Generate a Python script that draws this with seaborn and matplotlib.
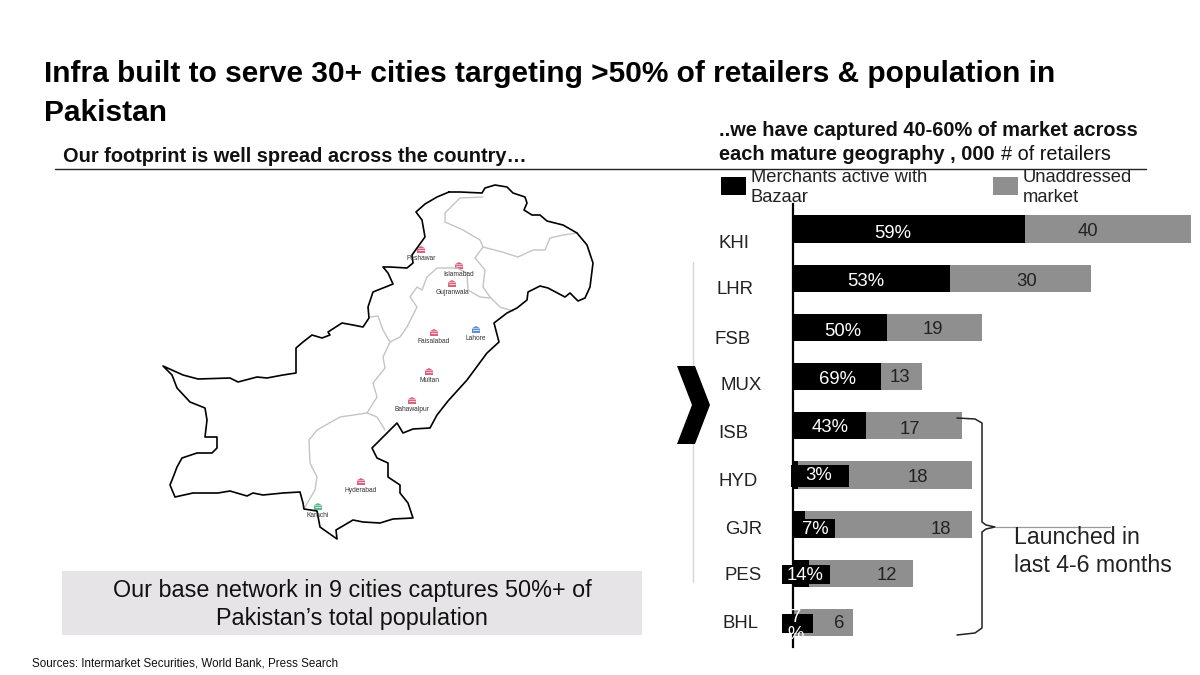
# -*- coding: utf-8 -*-
import matplotlib
matplotlib.use('Agg')
import matplotlib.pyplot as plt
import pandas as pd
import seaborn as sns
from matplotlib.patches import Polygon, Rectangle

cities = ['KHI', 'LHR', 'FSB', 'MUX', 'ISB', 'HYD', 'GJR', 'PES', 'BHL']
# bar lengths as drawn on the slide, the slide is not to scale with its labels
active = [55.9, 37.8, 22.7, 21.2, 17.6, 1.2, 2.9, 3.9, 0.0]
unaddressed = [40.0, 34.0, 22.8, 9.9, 23.1, 41.9, 40.2, 25.0, 14.5]
share_labels = ['59%', '53%', '50%', '69%', '43%', '3%', '7%', '14%', '7\n%']
market_labels = ['40', '30', '19', '13', '17', '18', '18', '12', '6']

# slide pixel positions of the free placed text
city_xy = [(719, 244), (716, 290), (715, 339), (720, 386), (718, 433),
           (718, 481), (725, 529), (725, 576), (723, 624)]
share_xy = [(893, 233), (866, 282), (843, 332), (837, 379), (830, 427),
            (819, 476), (815, 529), (805, 575), (796, 626)]
market_xy = [(1088, 231), (1027, 281), (933, 330), (900, 377), (910, 430),
             (918, 478), (941, 529), (887, 576), (839, 624)]
# black label boxes that sit on top of the small bars: x0, x1, y0, y1
label_boxes = [(791, 849, 465, 487), (793, 835, 519, 538),
               (782, 830, 565, 584), (782, 813, 614, 633)]

map_names = ['Peshawar', 'Islamabad', 'Gujranwala', 'Faisalabad', 'Lahore',
             'Multan', 'Bahawalpur', 'Hyderabad', 'Karachi']
map_xy = [(421, 250), (459, 266), (452, 284), (434, 333), (476, 330),
          (429, 372), (412, 401), (361, 482), (318, 507)]
map_colors = ['#d9627c', '#d9627c', '#d9627c', '#d9627c', '#5b8fd8',
              '#d9627c', '#d9627c', '#d9627c', '#58b98a']

border = [(449, 192), (460, 192), (482, 193), (485, 188), (495, 185), (507, 187),
          (513, 193), (525, 197), (527, 203), (524, 210), (532, 215), (540, 215),
          (547, 221), (563, 225), (577, 233), (587, 245), (593, 263), (590, 287),
          (585, 298), (578, 301), (570, 293), (565, 297), (548, 288), (540, 286),
          (528, 292), (527, 300), (517, 308), (507, 313), (494, 323), (499, 342),
          (487, 353), (467, 380), (448, 401), (437, 415), (430, 428), (413, 429),
          (403, 433), (397, 423), (383, 437), (372, 448), (377, 458), (388, 463),
          (388, 477), (400, 485), (400, 493), (408, 503), (413, 518), (393, 519),
          (380, 523), (363, 522), (353, 520), (336, 530), (337, 539), (320, 527),
          (317, 511), (304, 509), (303, 503), (300, 492), (283, 493), (263, 495),
          (253, 493), (247, 496), (230, 491), (218, 493), (193, 493), (175, 497),
          (170, 485), (174, 475), (177, 467), (182, 458), (197, 453), (212, 453),
          (217, 448), (217, 437), (205, 437), (207, 420), (205, 408), (190, 402),
          (177, 388), (172, 375), (163, 366), (183, 375), (198, 379), (230, 378),
          (238, 382), (257, 377), (267, 378), (283, 375), (296, 373), (296, 348),
          (303, 342), (312, 335), (322, 338), (330, 335), (328, 332), (342, 323),
          (353, 325), (363, 327), (369, 318), (368, 307), (373, 292), (383, 288),
          (393, 284), (388, 273), (383, 267), (390, 267), (407, 268), (413, 263),
          (412, 255), (417, 248), (425, 237), (422, 220), (416, 212), (425, 204),
          (437, 197), (449, 192)]
inner_lines = [
    [(577, 233), (563, 235), (550, 238), (545, 250), (533, 250), (518, 257), (502, 252),
     (483, 247), (480, 240), (463, 230), (445, 222), (445, 213), (460, 198), (483, 197)],
    [(483, 247), (475, 258), (485, 270), (483, 287), (490, 297), (500, 307), (513, 311)],
    [(490, 298), (480, 297), (468, 290), (467, 273), (457, 268), (437, 268), (427, 277),
     (422, 290), (417, 287), (410, 297), (417, 307), (407, 327), (400, 337), (390, 342),
     (383, 357), (385, 368), (373, 383), (377, 397), (367, 413), (340, 417), (317, 430),
     (309, 440), (310, 463), (317, 477), (315, 490), (305, 507)],
    [(370, 317), (378, 316), (383, 330), (390, 342)],
    [(367, 413), (377, 417), (385, 430)],
]
brace = [(957, 418), (975, 419), (982, 423), (982, 522), (986, 525), (995, 527),
         (986, 529), (982, 532), (982, 628), (975, 633), (957, 635)]
chevron = [(677, 366), (695, 366), (710, 405), (695, 444), (677, 444), (692, 405)]

sns.set_theme(style='white')
plt.rcParams['font.family'] = ['Liberation Sans', 'DejaVu Sans']

W, H = 1200, 675
fig = plt.figure(figsize=(12, 6.75), dpi=100, facecolor='white')

# bars, one unit is 4.15 px, first row centred on y=229 and 49.2 px between rows
bar_left, bar_top, bar_bottom = 793, 204.4, 647.2
ax = fig.add_axes([bar_left / W, 1 - bar_bottom / H, (W - bar_left) / W, (bar_bottom - bar_top) / H])
data = pd.DataFrame({'city': cities, 'active': active, 'unaddressed': unaddressed})
data['total'] = data['active'] + data['unaddressed']
sns.barplot(data=data, y='city', x='total', color='#8f8f8f', saturation=1, width=0.55,
            linewidth=0, ax=ax)
sns.barplot(data=data, y='city', x='active', color='black', saturation=1, width=0.55,
            linewidth=0, ax=ax)
ax.set_xlim(0, (W - bar_left) / 4.15)
ax.set_ylim(8.5, -0.5)
ax.set(xlabel='', ylabel='', xticks=[], yticks=[])
sns.despine(ax=ax, left=False, bottom=True)
ax.spines['left'].set_color('black')
ax.spines['left'].set_linewidth(1.6)
ax.patch.set_alpha(0)

# everything else is placed in slide pixels
over = fig.add_axes([0, 0, 1, 1])
over.set_xlim(0, W)
over.set_ylim(H, 0)
over.axis('off')
over.patch.set_alpha(0)

over.text(44, 74, 'Infra built to serve 30+ cities targeting >50% of retailers & population in',
          fontsize=21.56, fontweight='bold', color='black', va='center')
over.text(44, 113, 'Pakistan', fontsize=21.56, fontweight='bold', color='black', va='center')
over.text(63, 156, 'Our footprint is well spread across the country\u2026',
          fontsize=14.4, fontweight='bold', color='#111111', va='center')
over.text(719, 131, '..we have captured 40-60% of market across',
          fontsize=14.4, fontweight='bold', color='#111111', va='center')
over.text(719, 155, 'each mature geography , 000', fontsize=14.4, fontweight='bold',
          color='#111111', va='center')
over.text(1001, 155, '# of retailers', fontsize=14.3, color='#111111', va='center')
over.plot([55, 1146], [169, 169], color='#222222', lw=1)

# legend
over.add_patch(Rectangle((721, 177), 25, 18, color='black', lw=0))
over.add_patch(Rectangle((993, 177), 25, 18, color='#8f8f8f', lw=0))
over.text(751, 178, 'Merchants active with', fontsize=13.2, color='#222222', va='center')
over.text(751, 198, 'Bazaar', fontsize=13.2, color='#222222', va='center')
over.text(1023, 178, 'Unaddressed', fontsize=13.2, color='#222222', va='center')
over.text(1023, 198, 'market', fontsize=13.2, color='#222222', va='center')

# labels on the bars
for x0, x1, y0, y1 in label_boxes:
    over.add_patch(Rectangle((x0, y0), x1 - x0, y1 - y0, color='black', lw=0))
for name, (x, y) in zip(cities, city_xy):
    over.text(x, y, name, fontsize=13.4, color='#222222', va='center')
for txt, (x, y) in zip(share_labels[:-1], share_xy[:-1]):
    over.text(x, y, txt, fontsize=13.3, color='white', ha='center', va='center')
over.text(share_xy[-1][0], share_xy[-1][1], share_labels[-1], fontsize=13.3, color='white',
          ha='center', va='center', linespacing=1.05)
for txt, (x, y) in zip(market_labels, market_xy):
    over.text(x, y, txt, fontsize=13.3, color='#222222', ha='center', va='center')

# chevron, rule and bracket
over.plot([693, 693], [262, 582], color='#d6d6d6', lw=1, zorder=1)
over.add_patch(Polygon(chevron, closed=True, color='black', lw=0, zorder=2))
over.plot(*zip(*brace), color='#222222', lw=1.1)
over.plot([995, 1110], [527, 527], color='#9a9a9a', lw=0.9)
over.text(1014, 538, 'Launched in', fontsize=16.7, color='#222222', va='center')
over.text(1014, 566, 'last 4-6 months', fontsize=16.7, color='#222222', va='center')

# map
for line in inner_lines:
    over.plot(*zip(*line), color='#c4c4c4', lw=1)
over.plot(*zip(*border), color='black', lw=1.2)
for name, (x, y), col in zip(map_names, map_xy, map_colors):
    over.add_patch(Rectangle((x - 4, y - 1.5), 8, 4.5, color=col, lw=0))
    over.add_patch(Polygon([(x - 4.5, y - 1.5), (x, y - 4), (x + 4.5, y - 1.5)], closed=True, color=col, lw=0))
    over.plot([x - 3, x + 3], [y, y], color='white', lw=0.5)
    over.text(x, y + 8.5, name, fontsize=4.8, color='#333333', ha='center', va='center')

# bottom note
over.add_patch(Rectangle((62, 571), 580, 64, color='#e6e4e6', lw=0))
over.text(352, 591, 'Our base network in 9 cities captures 50%+ of', fontsize=16.8,
          color='#111111', ha='center', va='center')
over.text(352, 619, 'Pakistan\u2019s total population', fontsize=16.8,
          color='#111111', ha='center', va='center')
over.text(32, 664, 'Sources: Intermarket Securities, World Bank, Press Search', fontsize=8.4,
          color='#111111', va='center')

fig.savefig('out.png', dpi=100)
plt.close(fig)
